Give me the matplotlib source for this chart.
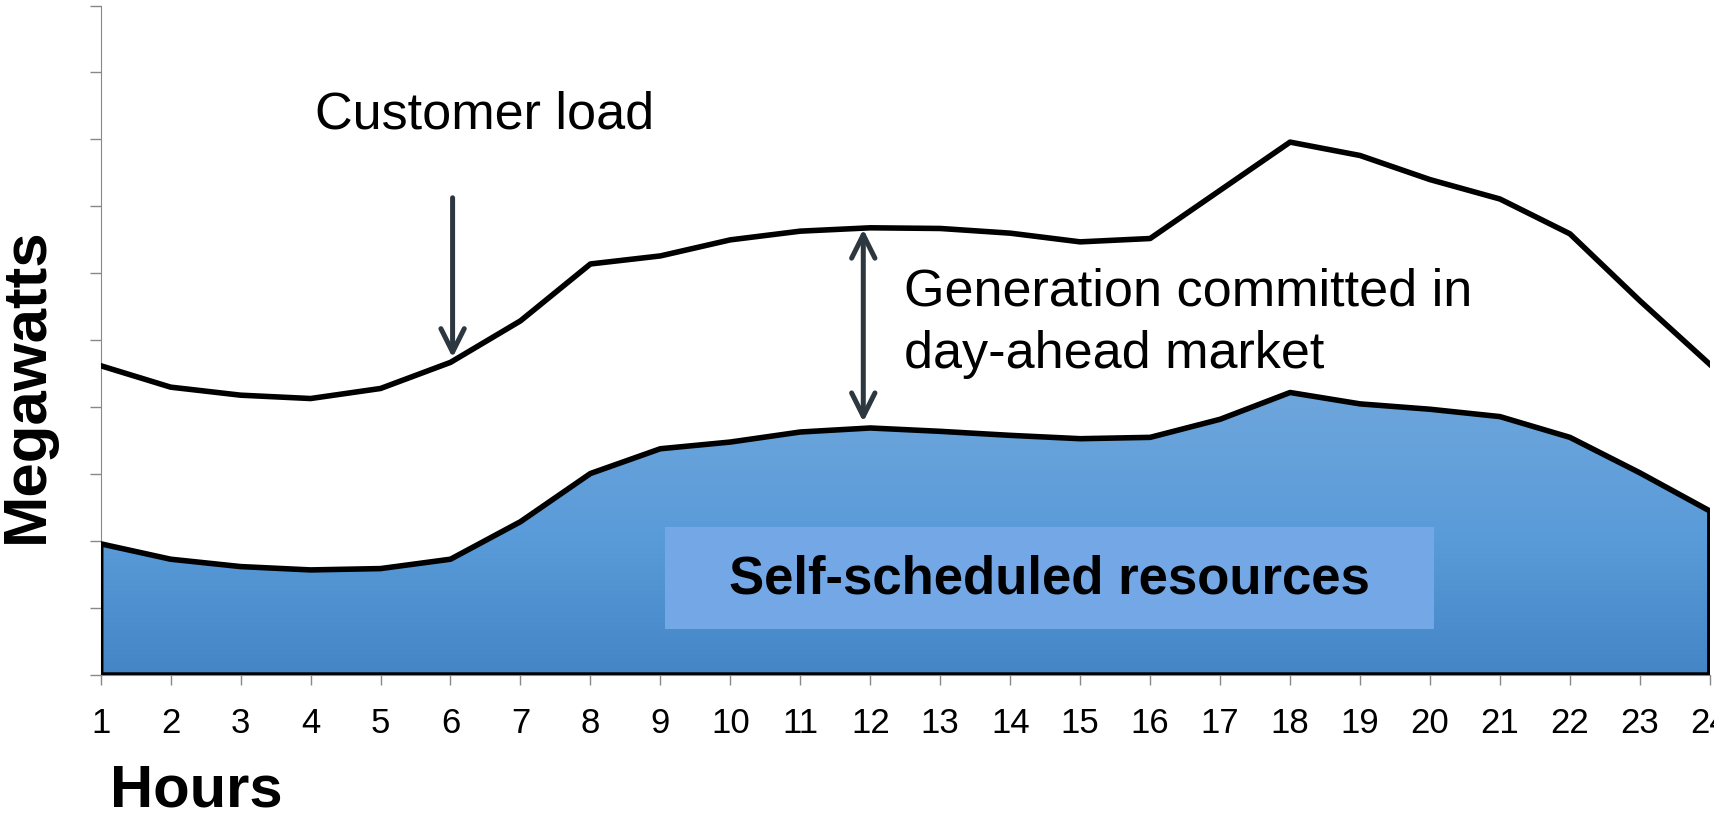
import numpy as np
import matplotlib.pyplot as plt
from matplotlib.colors import LinearSegmentedColormap
from matplotlib.patches import Polygon

plt.rcParams['font.family'] = ['Liberation Sans', 'DejaVu Sans']

hours = list(range(1, 25))
customer_load = [4.62, 4.30, 4.18, 4.13, 4.28, 4.67, 5.29, 6.14, 6.26, 6.50, 6.63, 6.68,
                 6.67, 6.60, 6.47, 6.52, 7.24, 7.96, 7.76, 7.40, 7.11, 6.59, 5.59, 4.64]
self_scheduled = [1.96, 1.73, 1.62, 1.57, 1.59, 1.73, 2.29, 3.01, 3.38, 3.48, 3.63, 3.69,
                  3.64, 3.58, 3.53, 3.55, 3.82, 4.22, 4.05, 3.97, 3.86, 3.55, 3.02, 2.45]
tick_labels = [str(h) for h in hours]

fig = plt.figure(figsize=(17.15, 8.13), dpi=100)
ax = fig.add_axes([0.0587, 0.1697, 0.9383, 0.8235])
ax.set_xlim(1, 24)
ax.set_ylim(0, 10)

# gradient fill under self-scheduled line
verts = [(hours[0], 0)] + list(zip(hours, self_scheduled)) + [(hours[-1], 0)]
poly = Polygon(verts, closed=True, facecolor='none', edgecolor='black', lw=4, zorder=3,
               joinstyle='round')
ax.add_patch(poly)
cmap = LinearSegmentedColormap.from_list('blues', ['#4485c6', '#5a9bd9', '#6ea6dc'])
grad = np.linspace(0, 1, 256).reshape(-1, 1)
top = max(self_scheduled)
img = ax.imshow(grad, extent=[1, 24, 0, top], origin='lower', aspect='auto', cmap=cmap, zorder=2)
img.set_clip_path(poly)

ax.plot(hours, customer_load, color='black', lw=4, zorder=3, solid_joinstyle='round')

# label box
ax.add_patch(plt.Rectangle((9.07, 0.69), 10.99, 1.52, facecolor='#73a7e6', edgecolor='none', zorder=4))
ax.text(14.56, 1.43, 'Self-scheduled resources', ha='center', va='center', fontsize=38,
        fontweight='bold', zorder=5)

arrow_color = '#2d3740'
ax.annotate('', xy=(6.03, 4.70), xytext=(6.03, 7.17),
            arrowprops=dict(arrowstyle='->', color=arrow_color, lw=3.6, mutation_scale=42), zorder=5)
ax.annotate('', xy=(11.9, 3.74), xytext=(11.9, 6.70),
            arrowprops=dict(arrowstyle='<->', color=arrow_color, lw=3.6, mutation_scale=42), zorder=5)

ax.text(4.06, 8.17, 'Customer load', fontsize=37.5, va='baseline', ha='left')
ax.text(12.48, 6.08, 'Generation committed in\nday-ahead market', fontsize=37.5, va='top', ha='left',
        linespacing=1.33)

ax.set_xticks(hours)
ax.set_xticklabels(tick_labels)
ax.set_yticks(range(0, 11))
ax.set_yticklabels([])
ax.tick_params(axis='x', length=7, width=1, color='#888888', labelsize=25, pad=16)
ax.tick_params(axis='y', length=8, width=1, color='#888888')
for side in ['top', 'right']:
    ax.spines[side].set_visible(False)
ax.spines['left'].set_color('#888888')
ax.spines['bottom'].set_color('#888888')

fig.text(0.016, 0.526, 'Megawatts', rotation=90, fontsize=44.5, fontweight='bold', ha='center', va='center')
fig.text(0.064, 0.0086, 'Hours', fontsize=43, fontweight='bold', ha='left', va='baseline')

fig.savefig('out.png', dpi=100)
